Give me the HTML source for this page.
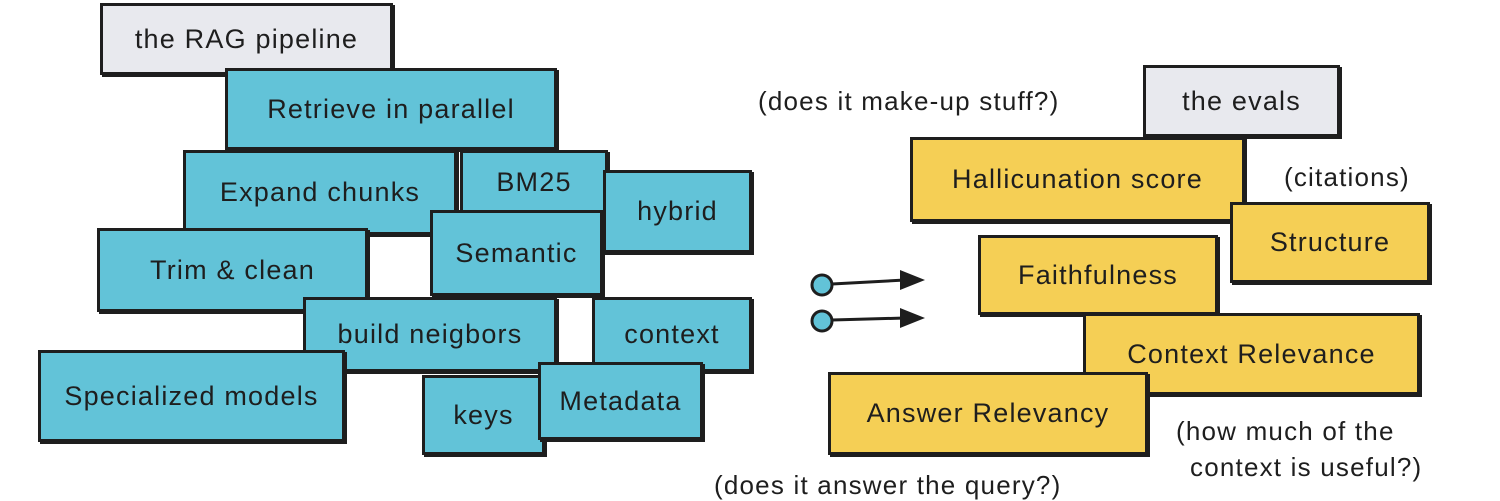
<!DOCTYPE html>
<html><head><meta charset="utf-8"><style>
body{margin:0;width:1500px;height:500px;background:#fff;position:relative;overflow:hidden;font-family:"Liberation Sans",sans-serif;color:#1e1e1e}
.b{position:absolute;box-sizing:border-box;border:3px solid #1e1e1e;display:flex;align-items:center;justify-content:center;font-size:27px;letter-spacing:1.2px;box-shadow:2px 2px 0 #1e1e1e}
.bl{background:#62c3d8}
.y{background:#f5cf55}
.g{background:#e8e9ee}
.t{position:absolute;font-size:26px;white-space:nowrap;letter-spacing:1.2px}
</style></head><body>
<div class="b g" style="left:100px;top:3px;width:293px;height:72px">the RAG pipeline</div>
<div class="b bl" style="left:225px;top:68px;width:332px;height:82px">Retrieve in parallel</div>
<div class="b bl" style="left:183px;top:150px;width:274px;height:85px">Expand chunks</div>
<div class="b bl" style="left:460px;top:150px;width:148px;height:65px">BM25</div>
<div class="b bl" style="left:603px;top:170px;width:149px;height:83px">hybrid</div>
<div class="b bl" style="left:97px;top:228px;width:271px;height:84px">Trim &amp; clean</div>
<div class="b bl" style="left:430px;top:210px;width:173px;height:86px">Semantic</div>
<div class="b bl" style="left:303px;top:297px;width:254px;height:75px">build neigbors</div>
<div class="b bl" style="left:592px;top:297px;width:160px;height:75px">context</div>
<div class="b bl" style="left:38px;top:350px;width:307px;height:92px">Specialized models</div>
<div class="b bl" style="left:422px;top:375px;width:123px;height:80px">keys</div>
<div class="b bl" style="left:538px;top:362px;width:165px;height:78px">Metadata</div>

<div class="b g" style="left:1143px;top:65px;width:197px;height:72px">the evals</div>
<div class="b y" style="left:910px;top:137px;width:335px;height:85px">Hallicunation score</div>
<div class="b y" style="left:1230px;top:202px;width:200px;height:81px">Structure</div>
<div class="b y" style="left:978px;top:235px;width:240px;height:80px">Faithfulness</div>
<div class="b y" style="left:1083px;top:313px;width:337px;height:82px">Context Relevance</div>
<div class="b y" style="left:828px;top:372px;width:320px;height:83px">Answer Relevancy</div>

<div class="t" style="left:758px;top:86px">(does it make-up stuff?)</div>
<div class="t" style="left:1284px;top:162px">(citations)</div>
<div class="t" style="left:1176px;top:416px">(how much of the</div>
<div class="t" style="left:1190px;top:452px">context is useful?)</div>
<div class="t" style="left:714px;top:470px">(does it answer the query?)</div>

<svg style="position:absolute;left:0;top:0" width="1500" height="500">
<g stroke="#1e1e1e" stroke-width="3" fill="#62c3d8">
<circle cx="822" cy="285" r="10"/>
<circle cx="822" cy="321" r="10"/>
<line x1="832" y1="284" x2="905" y2="280"/>
<line x1="832" y1="320" x2="905" y2="318"/>
</g>
<polygon points="900,270 925,280 900,290" fill="#1e1e1e"/>
<polygon points="900,308 925,318 900,328" fill="#1e1e1e"/>
</svg>
</body></html>
